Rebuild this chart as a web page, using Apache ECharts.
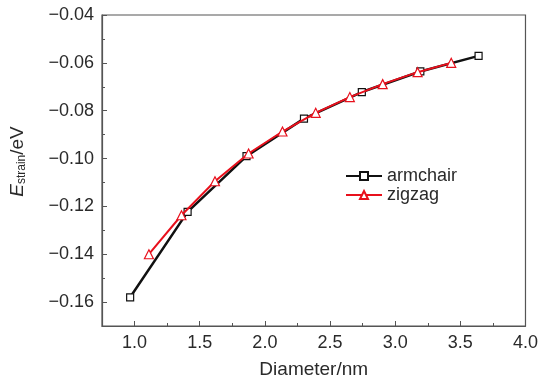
<!DOCTYPE html>
<html>
<head>
<meta charset="utf-8">
<script src="https://cdn.jsdelivr.net/npm/echarts@6/dist/echarts.min.js"></script>
<style>html,body{margin:0;padding:0;background:#fff}#c{width:541px;height:384px}</style>
</head>
<body>
<div id="c"></div>
<script>
const armchairX = [0.966, 1.407, 1.859, 2.30, 2.744, 3.193, 3.64];
const armchairY = [-0.158, -0.1223, -0.099, -0.0833, -0.0722, -0.0636, -0.0571];
const zigzagX = [1.11, 1.36, 1.617, 1.875, 2.135, 2.39, 2.652, 2.904, 3.172, 3.43];
const zigzagY = [-0.140, -0.1237, -0.1095, -0.0979, -0.0887, -0.0809, -0.0743, -0.0689, -0.0639, -0.060];
const xMajorTicks = [1.0, 1.5, 2.0, 2.5, 3.0, 3.5, 4.0];
const yMajorTicks = [-0.16, -0.14, -0.12, -0.10, -0.08, -0.06, -0.04];

const font = 'Liberation Sans, Arial, sans-serif';
const txt = '#2a2a2a';
const axisCol = '#555';

const chart = echarts.init(document.getElementById('c'), null, {renderer: 'canvas'});
chart.setOption({
  animation: false,
  grid: {left: 100, right: 15, top: 15, bottom: 57, show: true, borderColor: axisCol, borderWidth: 1.2, backgroundColor: 'transparent'},
  legend: {
    orient: 'vertical', left: 340, top: 162, itemWidth: 36, itemHeight: 10, itemGap: 1,
    textStyle: {fontFamily: font, fontSize: 18, color: txt},
    data: ['armchair', 'zigzag']
  },
  xAxis: [{
    type: 'value', min: 0.75, max: 4.0,
    name: 'Diameter/nm', nameLocation: 'middle', nameGap: 34,
    nameTextStyle: {fontFamily: font, fontSize: 19, color: txt},
    axisLine: {show: true, lineStyle: {color: axisCol, width: 1.2}},
    axisTick: {show: true, inside: true, length: 5, customValues: xMajorTicks, lineStyle: {color: axisCol}},
    axisLabel: {customValues: xMajorTicks, fontFamily: font, fontSize: 18, color: txt, margin: 8,
      formatter: v => v.toFixed(1)},
    splitLine: {show: false}
  }, {
    type: 'value', min: 0.75, max: 4.0, interval: 0.25, position: 'bottom',
    axisLine: {show: false},
    axisTick: {show: true, inside: true, length: 3, lineStyle: {color: axisCol}},
    axisLabel: {show: false}, splitLine: {show: false}
  }],
  yAxis: [{
    type: 'value', min: -0.17, max: -0.04,
    name: '{i|E}{s|strain}{n|/eV}', nameLocation: 'middle', nameGap: 74, nameRotate: 90,
    nameTextStyle: {fontFamily: font, color: txt, padding: [0, 0, 0, 18], rich: {
      i: {fontStyle: 'italic', fontSize: 19, fontFamily: font, color: txt},
      s: {fontSize: 12, fontFamily: font, color: txt, verticalAlign: 'bottom', padding: [9, 0, 0, 0]},
      n: {fontSize: 19, fontFamily: font, color: txt}
    }},
    axisLine: {show: true, lineStyle: {color: axisCol, width: 1.2}},
    axisTick: {show: true, inside: true, length: 5, customValues: yMajorTicks, lineStyle: {color: axisCol}},
    axisLabel: {customValues: yMajorTicks, fontFamily: font, fontSize: 18, color: txt, margin: 8,
      formatter: v => (v < 0 ? '\u2212' : '') + Math.abs(v).toFixed(2)},
    splitLine: {show: false}
  }, {
    type: 'value', min: -0.17, max: -0.04, interval: 0.01, position: 'left',
    axisLine: {show: false},
    axisTick: {show: true, inside: true, length: 3, lineStyle: {color: axisCol}},
    axisLabel: {show: false}, splitLine: {show: false}
  }],
  series: [{
    name: 'armchair', type: 'line', xAxisIndex: 0, yAxisIndex: 0,
    data: armchairX.map((x, i) => [x, armchairY[i]]),
    symbol: 'rect', symbolSize: 7,
    lineStyle: {color: '#111', width: 2.5},
    itemStyle: {color: '#fff', borderColor: '#111', borderWidth: 1.2},
    z: 2
  }, {
    name: 'zigzag', type: 'line', xAxisIndex: 0, yAxisIndex: 0,
    data: zigzagX.map((x, i) => [x, zigzagY[i]]),
    symbol: 'triangle', symbolSize: 9,
    lineStyle: {color: '#e8101c', width: 2},
    itemStyle: {color: '#fff', borderColor: '#e8101c', borderWidth: 1.2},
    z: 3
  }]
});
</script>
</body>
</html>
